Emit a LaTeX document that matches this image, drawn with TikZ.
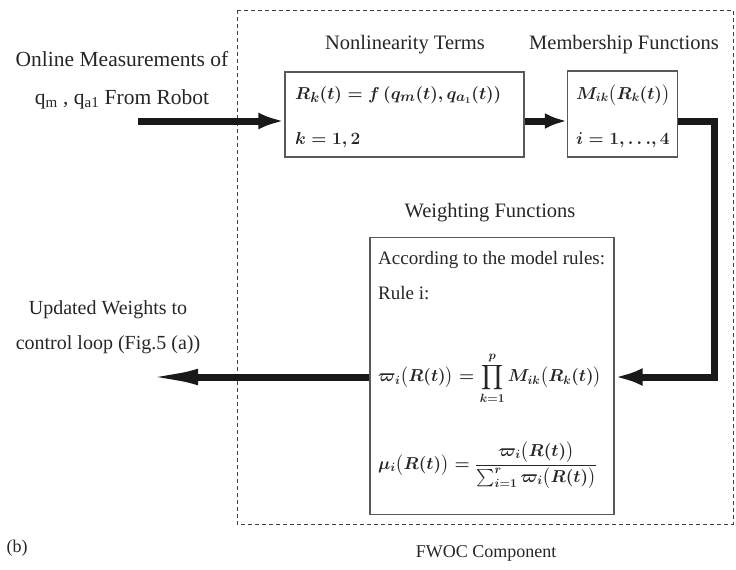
\documentclass[tikz,border=0pt]{standalone}
\usepackage{amsmath}
\usepackage{fontspec}
\setmainfont{Liberation Serif}
\usetikzlibrary{arrows.meta}
\begin{document}
\begin{tikzpicture}[x=1pt,y=-1pt,
  box/.style={draw=black!65, line width=1.4pt, fill=white, inner sep=0},
  biglbl/.style={font=\fontsize{21.5}{38}\selectfont, inner sep=0, align=center, text=black!85},
  outlbl/.style={font=\fontsize{20}{35}\selectfont, inner sep=0, align=center, text=black!85},
  title/.style={font=\fontsize{20.5}{24}\selectfont, inner sep=0, text=black!85},
  inner/.style={font=\fontsize{19}{22}\selectfont, inner sep=0, anchor=west, text=black!85},
  mth/.style={font=\fontsize{19}{22}\selectfont\boldmath, inner sep=0, anchor=west, text=black!85},
  smth/.style={font=\fontsize{17.5}{22}\selectfont\boldmath, inner sep=0, anchor=west, text=black!85},
  small/.style={font=\fontsize{18}{22}\selectfont, inner sep=0, text=black!85},
  flow/.style={line width=7pt, black!90},
]
\useasboundingbox (0,0) rectangle (736,570);
% dashed component frame
\draw[line width=0.8pt, black!75, dash pattern=on 4pt off 3pt] (237,10) rectangle (733,524);

% boxes
\node[box, minimum width=239pt, minimum height=85pt] (nl) at (404.5,114.5) {};
\node[box, minimum width=110pt, minimum height=86pt] (mf) at (622.5,114) {};
\node[box, minimum width=244pt, minimum height=277pt] (wf) at (492,376) {};

% titles
\node[title] (tnl) at (405,45) {Nonlinearity Terms};
\node[title] (tmf) at (624,45) {Membership Functions};
\node[title] (twf) at (490,213) {Weighting Functions};

% box contents
\node[mth] (r) at (295,95) {$R_k(t)=f\left(q_m(t),q_{a_1}(t)\right)$};
\node[mth] (k) at (295,140) {$k=1,2$};
\node[smth] (m) at (576,95) {$M_{ik}\bigl(R_k(t)\bigr)$};
\node[smth] (ii) at (576,140) {$i=1,{\ldots},4$};
\node[inner] (acc) at (378,260) {According to the model rules:};
\node[inner] (rule) at (378,293) {Rule i:};
\node[smth] (w) at (378,378) {$\displaystyle \varpi_i\bigl(R(t)\bigr)=\prod_{k=1}^{p}M_{ik}\bigl(R_k(t)\bigr)$};
\node[smth] (mu) at (378,465) {$\displaystyle \mu_i\bigl(R(t)\bigr)=\frac{\varpi_i\bigl(R(t)\bigr)}{\sum_{i=1}^{r}\varpi_i\bigl(R(t)\bigr)}$};

% outside labels
\node[biglbl] (in) at (122,80) {Online Measurements of\\q\textsubscript{m} , q\textsubscript{a1} From Robot};
\node[outlbl] (out) at (108,327) {Updated Weights to\\control loop (Fig.5 (a))};
\node[small] (b) at (17,548) {(b)};
\node[small] (fwoc) at (486,553) {FWOC Component};

% connectors
\coordinate (src) at (138,121);
\coordinate (dst) at (140,377);
\coordinate (corner1) at (714,121);
\draw[flow, -{Latex[length=26pt,width=17pt]}] (src) -- (src -| nl.west);
\draw[flow, -{Latex[length=22pt,width=16pt]}] (nl.east |- src) -- (mf.west |- src);
\draw[flow, -{Latex[length=28pt,width=18pt]}] (mf.east |- corner1) -- (corner1) -- (corner1 |- dst) -- (wf.east |- dst);
\draw[flow, -{Latex[length=58pt,width=16pt]}] (wf.west |- dst) -- (dst);
\end{tikzpicture}
\end{document}
